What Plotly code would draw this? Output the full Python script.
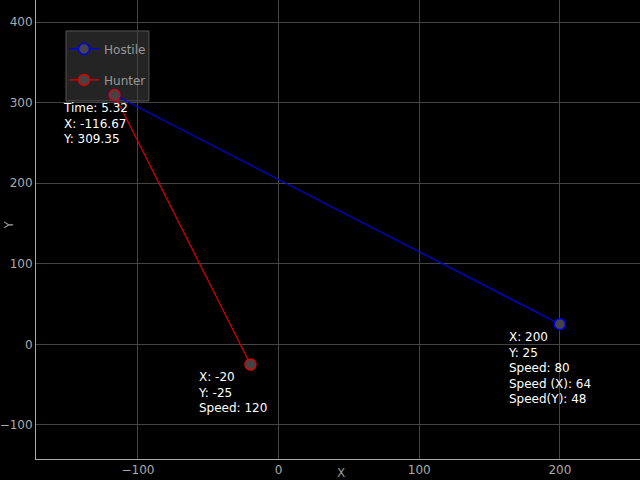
import plotly.graph_objects as go

# Data
hostile_x = [200, -116.67]
hostile_y = [25, 309.35]
hunter_x = [-20, -116.67]
hunter_y = [-25, 309.35]
hostile_speed = 80
hostile_speed_x = 64
hostile_speed_y = 48
hunter_speed = 120
intercept_time = 5.32

marker_fill = "#444444"

fig = go.Figure()
fig.add_trace(go.Scatter(
    x=hostile_x, y=hostile_y, mode="lines+markers", name="Hostile",
    line=dict(color="#0000ee", width=1.2),
    marker=dict(size=11, color=marker_fill, line=dict(color="#0000ee", width=1.5)),
    legendgroup="a",
))
fig.add_trace(go.Scatter(
    x=hunter_x, y=hunter_y, mode="lines+markers", name="Hunter",
    line=dict(color="#dd0000", width=1.2),
    marker=dict(size=11, color=marker_fill, line=dict(color="#dd0000", width=1.5)),
    legendgroup="b",
))

ann_font = dict(family="DejaVu Sans", size=12, color="white")

def label(x, y, text):
    fig.add_annotation(x=x, y=y, text=text, showarrow=False, xanchor="left",
                       yanchor="top", align="left", xshift=-54, yshift=-4,
                       font=ann_font)

label(hostile_x[0], hostile_y[0],
      f"X: {hostile_x[0]}<br>Y: {hostile_y[0]}<br>Speed: {hostile_speed}"
      f"<br>Speed (X): {hostile_speed_x}<br>Speed(Y): {hostile_speed_y}")
label(hunter_x[0], hunter_y[0],
      f"X: {hunter_x[0]}<br>Y: {hunter_y[0]}<br>Speed: {hunter_speed}")
label(hunter_x[1], hunter_y[1],
      f"Time: {intercept_time}<br>X: {hunter_x[1]}<br>Y: {hunter_y[1]}")

# axis titles
fig.add_annotation(x=0.5, y=0, xref="paper", yref="paper", text="X", showarrow=False,
                   yanchor="top", yshift=-5, xshift=3,
                   font=dict(family="DejaVu Sans", size=12, color="#999999"))
fig.add_annotation(x=0, y=0.5, xref="paper", yref="paper", text="Y", showarrow=False,
                   textangle=-90, xanchor="center", xshift=-28, yshift=4,
                   font=dict(family="DejaVu Sans", size=12, color="#999999"))

# legend box (drawn beneath the traces, as in the reference)
fig.add_shape(type="rect", xref="paper", yref="paper",
              x0=0.0497, x1=0.187, y0=0.780, y1=0.9325,
              fillcolor="rgba(40,40,40,0.9)", line=dict(color="#555555", width=1),
              layer="below")

axis_common = dict(
    showgrid=True, gridcolor="#444444", gridwidth=1, automargin=False,
    zeroline=False, showline=True, linecolor="#aaaaaa", linewidth=1,
    ticks="", tickfont=dict(family="DejaVu Sans", size=12, color="#aaaaaa"),
)
fig.update_xaxes(range=[-172.5, 257], tickvals=[-100, 0, 100, 200], **axis_common)
fig.update_yaxes(range=[-142.3, 427.3], tickvals=[-100, 0, 100, 200, 300, 400], **axis_common)

fig.update_layout(
    width=640, height=480,
    margin=dict(l=36, r=0, t=0, b=21, autoexpand=False),
    paper_bgcolor="black", plot_bgcolor="black",
    font=dict(family="DejaVu Sans", size=12, color="#aaaaaa"),
    showlegend=True,
    legend=dict(x=0.0464, y=0.925, xanchor="left", yanchor="top",
                bgcolor="rgba(0,0,0,0)", borderwidth=0,
                font=dict(family="DejaVu Sans", size=12, color="#999999"),
                tracegroupgap=12, traceorder="grouped", itemwidth=30),
)

fig.write_html("out.html", config={"displayModeBar": False},
               post_script="document.body.style.margin='0';document.body.style.background='black';")
